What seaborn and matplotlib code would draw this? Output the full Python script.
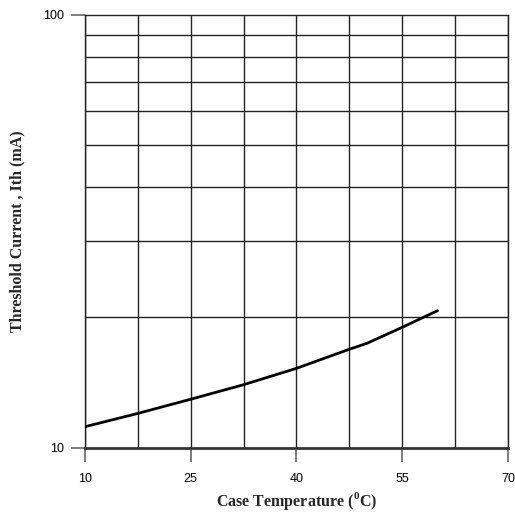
import matplotlib
matplotlib.use("Agg")
import matplotlib.pyplot as plt
import numpy as np
import pandas as pd
import seaborn as sns

# threshold current vs case temperature
temperature = [10, 17.5, 25, 32.5, 40, 47.5, 50, 55, 60]
threshold_ma = [11.18, 12.0, 12.94, 13.98, 15.25, 16.88, 17.42, 18.97, 20.72]

x_ticks = [10, 25, 40, 55, 70]
x_grid = [10, 17.5, 25, 32.5, 40, 47.5, 55, 62.5, 70]
y_ticks = [10, 100]
y_grid = [20, 30, 40, 50, 60, 70, 80, 90]

df = pd.DataFrame({"temp": temperature, "ith": threshold_ma})

sns.set_theme(style="white")
plt.rcParams["font.family"] = ["Liberation Sans", "DejaVu Sans"]
plt.rcParams["mathtext.fontset"] = "custom"
plt.rcParams["mathtext.bf"] = "Liberation Serif:bold"
plt.rcParams["mathtext.rm"] = "Liberation Serif"

fig = plt.figure(figsize=(5.15, 5.12), dpi=100)
ax = fig.add_axes([0.165, 0.1256, 0.8214, 0.8457])

for gx in x_grid:
    ax.axvline(gx, color="#222222", linewidth=1.0, zorder=1)
for gy in y_grid:
    ax.axhline(gy, color="#222222", linewidth=1.0, zorder=1)

sns.lineplot(data=df, x="temp", y="ith", color="black", linewidth=2.0, ax=ax, zorder=3)

ax.set_yscale("log")
ax.set_xlim(10, 70)
ax.set_ylim(10, 100)
ax.set_xticks(x_ticks)
ax.set_xticklabels([str(t) for t in x_ticks])
ax.set_yticks(y_ticks)
ax.set_yticklabels([str(t) for t in y_ticks])
ax.yaxis.set_minor_locator(matplotlib.ticker.NullLocator())

for side in ["left", "right", "top"]:
    ax.spines[side].set_color("#222222")
    ax.spines[side].set_linewidth(1.0)
ax.spines["bottom"].set_color("#333333")
ax.spines["bottom"].set_linewidth(2.0)

ax.tick_params(axis="both", which="major", direction="out", length=10,
               width=1.2, color="#666666", labelsize=9, labelcolor="black",
               left=True, bottom=True)
ax.tick_params(axis="x", pad=8)
ax.tick_params(axis="y", pad=5)

ax.set_xlabel(r"Case Temperature ($^{\mathbf{0}}$C)", fontfamily="Liberation Serif",
              fontweight="bold", fontsize=11.5, labelpad=4)
ax.set_ylabel("Threshold Current , Ith (mA)", fontfamily="Liberation Serif",
              fontweight="bold", fontsize=11.5, labelpad=13)

fig.savefig("out.png", dpi=100)
